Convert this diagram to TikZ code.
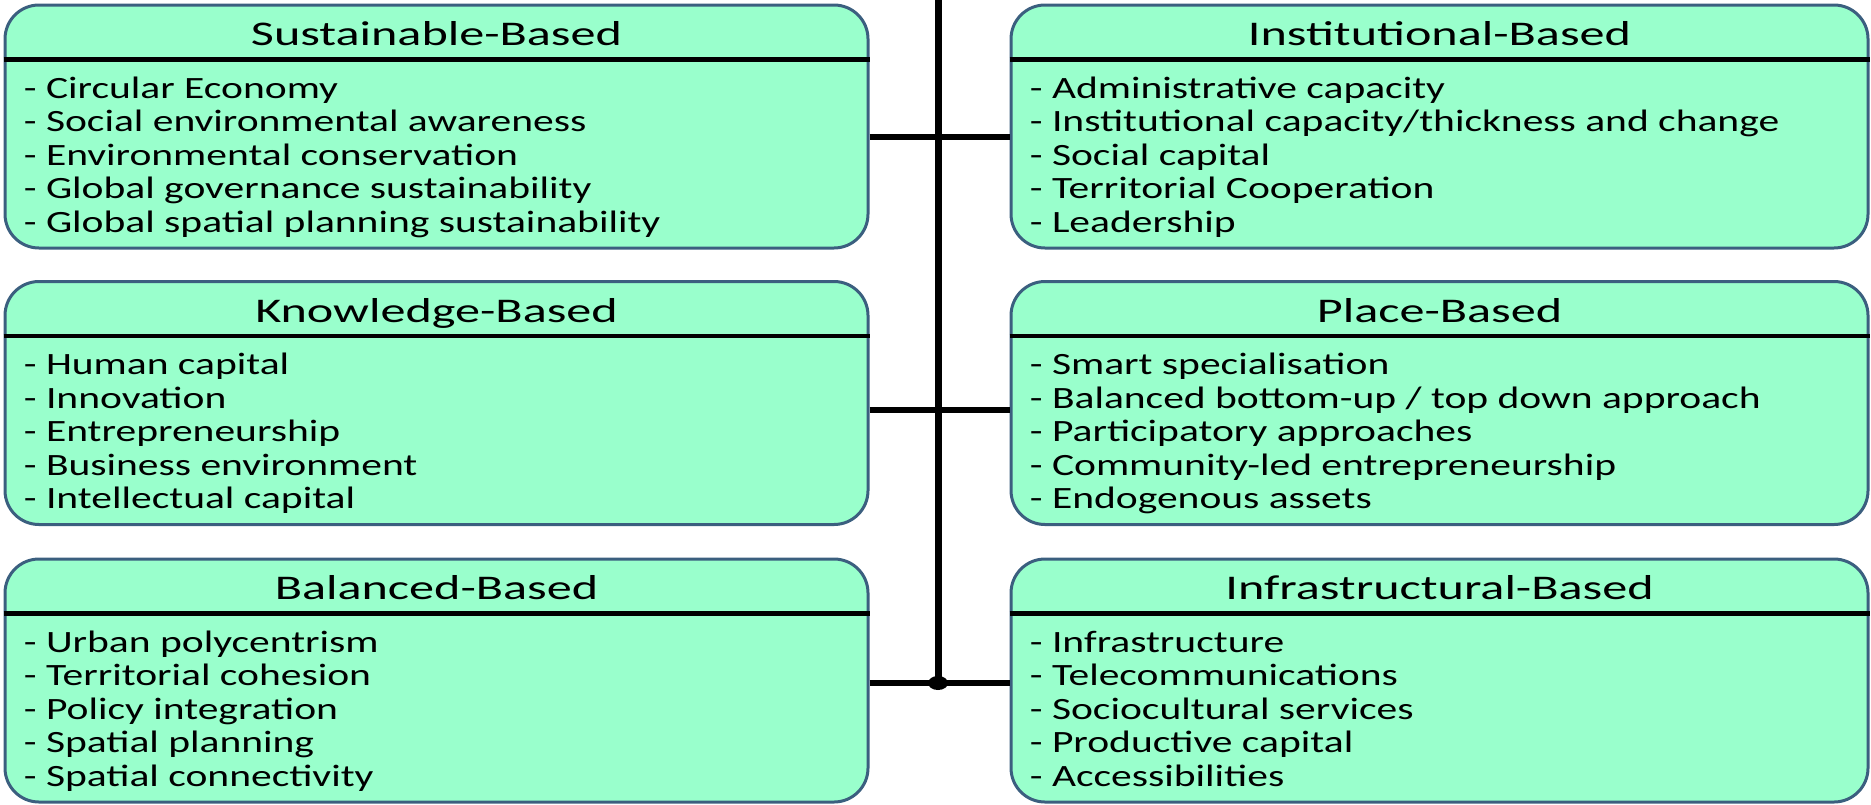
\documentclass[tikz,border=0pt]{standalone}
\usepackage{fontspec}
\setmainfont[FakeStretch=1.34]{Carlito}
\newfontfamily\headfont[FakeStretch=1.45]{Carlito}
\usepackage{tikz}
\usetikzlibrary{positioning, calc, shapes.geometric}
\definecolor{mintfill}{HTML}{99FFCC}
\definecolor{slateedge}{HTML}{3B5F7F}

\tikzset{
  groupbox/.style={draw=slateedge, fill=mintfill, line width=1.5pt, rounded corners=17pt,
                   minimum height=121.5pt, inner sep=0pt},
  leftbox/.style={groupbox, minimum width=431.5pt},
  rightbox/.style={groupbox, minimum width=428.5pt},
  grouptitle/.style={anchor=base, inner sep=0pt, font=\headfont\fontsize{17.3}{20}\selectfont},
  grouplist/.style={anchor=north west, inner sep=0pt, align=left,
                    font=\fontsize{15.5}{16.75}\selectfont},
  splitline/.style={line width=2.2pt, black},
  trunk/.style={line width=3.5pt, black},
  link/.style={line width=3pt, black},
  hubdot/.style={ellipse, fill=black, inner sep=0pt, minimum width=10pt, minimum height=7pt}
}

\begin{document}
\begin{tikzpicture}[x=0.5pt, y=-0.5pt]
  \useasboundingbox (0,0) rectangle (1871,804);

  % left column
  \node[leftbox] (sust) at (436.5,126.5) {};
  \node[leftbox] (know) at (436.5,403) {};
  \node[leftbox] (bal) at (436.5,680.5) {};
  % right column
  \node[rightbox] (inst) at (1439.5,126.5) {};
  \node[rightbox] (place) at (1439.5,403) {};
  \node[rightbox] (infra) at (1439.5,680.5) {};

  \foreach \grp in {sust, know, bal, inst, place, infra}
    \draw[splitline] ($(\grp.north west)+(0,56)$) -- ($(\grp.north east)+(0,56)$);

  \node[grouptitle] (sust-title) at ($(sust.north)+(0,42)$) {Sustainable-Based};
  \node[grouptitle] (know-title) at ($(know.north)+(0,42)$) {Knowledge-Based};
  \node[grouptitle] (bal-title) at ($(bal.north)+(0,42)$) {Balanced-Based};
  \node[grouptitle] (inst-title) at ($(inst.north)+(0,42)$) {Institutional-Based};
  \node[grouptitle] (place-title) at ($(place.north)+(0,42)$) {Place-Based};
  \node[grouptitle] (infra-title) at ($(infra.north)+(0,42)$) {Infrastructural-Based};

  \node[grouplist] (sust-list) at ($(sust.north west)+(20,73)$) {%
    - Circular Economy\\
    - Social environmental awareness\\
    - Environmental conservation\\
    - Global governance sustainability\\
    - Global spatial planning sustainability};
  \node[grouplist] (know-list) at ($(know.north west)+(20,73)$) {%
    - Human capital\\
    - Innovation\\
    - Entrepreneurship\\
    - Business environment\\
    - Intellectual capital};
  \node[grouplist] (bal-list) at ($(bal.north west)+(20,73)$) {%
    - Urban polycentrism\\
    - Territorial cohesion\\
    - Policy integration\\
    - Spatial planning\\
    - Spatial connectivity};
  \node[grouplist] (inst-list) at ($(inst.north west)+(20,73)$) {%
    - Administrative capacity\\
    - Institutional capacity/thickness and change\\
    - Social capital\\
    - Territorial Cooperation\\
    - Leadership};
  \node[grouplist] (place-list) at ($(place.north west)+(20,73)$) {%
    - Smart specialisation\\
    - Balanced bottom-up / top down approach\\
    - Participatory approaches\\
    - Community-led entrepreneurship\\
    - Endogenous assets};
  \node[grouplist] (infra-list) at ($(infra.north west)+(20,73)$) {%
    - Infrastructure\\
    - Telecommunications\\
    - Sociocultural services\\
    - Productive capital\\
    - Accessibilities};

  % spine and ties
  \coordinate (spinetop) at (938,0);
  \coordinate (tie1) at (938,137);
  \coordinate (tie2) at (938,410);
  \node[hubdot] (hub) at (938,683) {};
  \draw[trunk] (spinetop) -- (hub.center);
  \draw[link] (sust.east |- tie1) -- (inst.west |- tie1);
  \draw[link] (know.east |- tie2) -- (place.west |- tie2);
  \draw[link] (bal.east |- hub) -- (infra.west |- hub);
\end{tikzpicture}
\end{document}
